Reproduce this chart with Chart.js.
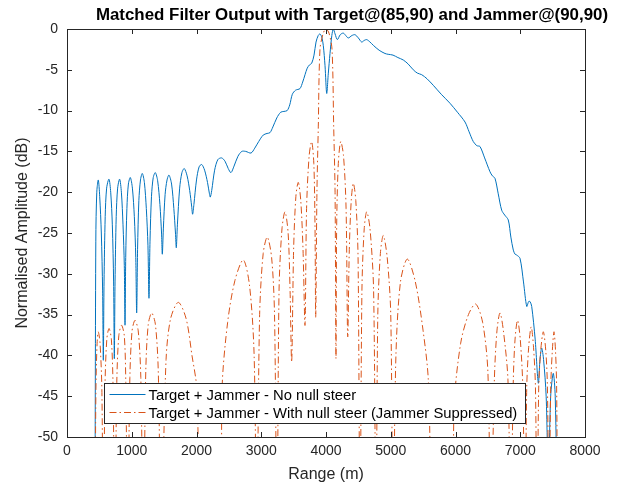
<!DOCTYPE html>
<html>
<head>
<meta charset="utf-8">
<script src="https://cdn.jsdelivr.net/npm/chart.js@4.4.1/dist/chart.umd.min.js"></script>
<style>
  html, body { margin: 0; padding: 0; background: #fff; }
  canvas { display: block; }
</style>
</head>
<body>
<canvas id="myChart" width="622" height="486"></canvas>
<script>
// matched filter output
// range (m) and normalised amplitude (dB) - no null steer
var blueRange = [432, 445, 460, 483, 505, 530, 550, 561, 572, 590, 612, 648, 675, 700, 720, 731,
  742, 760, 782, 813, 840, 865, 885, 896, 907, 925, 948, 978, 1010, 1040, 1062, 1076,
  1090, 1110, 1135, 1163, 1195, 1225, 1250, 1266, 1282, 1305, 1332, 1364, 1400, 1435, 1460, 1472,
  1488, 1515, 1545, 1575, 1615, 1650, 1675, 1688, 1705, 1740, 1775, 1811, 1855, 1895, 1925, 1940,
  1960, 2000, 2040, 2080, 2125, 2170, 2200, 2213, 2235, 2280, 2330, 2388, 2440, 2490, 2532,
  2580, 2640, 2700, 2760, 2842, 2900, 2960, 3030, 3090, 3135, 3180, 3240, 3300, 3350, 3400,
  3440, 3480, 3530, 3598, 3640, 3676, 3710, 3745, 3779, 3815, 3846, 3880, 3907, 3935, 3958,
  3985, 4011, 4035, 4062, 4090, 4113, 4140, 4175, 4220, 4267, 4305, 4344, 4400, 4448, 4500,
  4551, 4590, 4629, 4680, 4731, 4820, 4911, 4960, 5035, 5110, 5194, 5270, 5348, 5410, 5478,
  5560, 5657, 5780, 5915, 6030, 6147, 6210, 6275, 6330, 6378, 6450, 6533, 6570, 6610, 6660,
  6713, 6760, 6815, 6855, 6893, 6920, 6945, 6996, 7050, 7100, 7130, 7151, 7177, 7230, 7279,
  7305, 7331, 7360, 7400, 7434, 7470, 7510, 7540, 7572];
var blueDb = [-60, -26, -20, -18.5, -20.5, -25, -32, -40.6, -31, -23, -19.5, -18.4, -20, -24, -31, -40.4,
  -31, -23, -19.5, -18.4, -20, -24, -29, -36.3, -28, -22, -19, -18.2, -19.5, -23, -28, -34.8,
  -27, -21, -18.5, -17.7, -18.8, -22, -26.5, -33.0, -26, -20.5, -18.2, -17.6, -18.6, -21.5, -25, -27.6,
  -24.5, -20.3, -18.5, -17.9, -19, -22, -25, -26.8, -24, -19.5, -17.6, -17.1, -18, -19.8, -21.7, -22.7,
  -21.5, -18.5, -16.9, -16.6, -17.3, -18.8, -20.2, -20.6, -19.8, -17.3, -16, -15.8, -16.2, -17.1, -17.6,
  -16.8, -15.6, -15.0, -15.0, -15.2, -14.6, -13.8, -13.0, -12.8, -12.7, -12.0, -10.9, -10.2, -10.1, -10.0,
  -9.3, -8.0, -7.5, -7.3, -6.5, -5.6, -4.8, -4.4, -4.2, -3.2, -1.6, -0.8, -0.6, -1.0, -2.0,
  -4.5, -7.9, -5.5, -3.0, -0.8, 0, -0.6, -1.3, -0.7, -0.5, -0.8, -1.1, -0.8, -0.7, -1.1,
  -1.6, -1.4, -1.3, -1.6, -2.0, -2.6, -3.0, -3.1, -3.2, -3.5, -3.8, -4.3, -5.0, -5.4, -5.6,
  -6.1, -6.9, -8.0, -9.1, -10.2, -11.4, -12.6, -13.8, -14.3, -14.4, -15.8, -17.5, -18.0, -18.3, -20.2,
  -22.2, -22.8, -23.4, -25.5, -27.1, -27.6, -27.7, -28.1, -31, -34.0, -33.4, -33.4, -34.0, -38, -43.4,
  -40.5, -39.1, -40.5, -45, -55, -45, -42.2, -45, -60];

// with null steer (jammer suppressed)
var redRange = [432, 447, 465, 483, 510, 538, 561, 587, 615, 649, 685, 711, 738, 769, 800, 842, 885, 908,
  937, 971, 1005, 1050, 1100, 1140, 1178, 1217, 1255, 1308, 1365, 1409, 1455, 1530, 1600, 1719, 1840, 1930,
  2003, 2060, 2220, 2380, 2395, 2480, 2594, 2723, 2820, 2890, 2930, 2975, 3030, 3093, 3160, 3205,
  3243, 3275, 3320, 3367, 3415, 3445, 3470, 3500, 3535, 3572, 3610, 3645, 3676, 3700, 3740, 3779,
  3812, 3830, 3841, 3860, 3881, 3907, 3958, 4000, 4046, 4093, 4119, 4140, 4154, 4165, 4190, 4227,
  4270, 4310, 4335, 4360, 4390, 4422, 4460, 4495, 4525, 4555, 4590, 4629, 4680, 4735, 4772, 4800,
  4840, 4885, 4945, 5000, 5035, 5080, 5150, 5256, 5380, 5500, 5580, 5640, 5800, 5960, 5980, 6080,
  6200, 6312, 6420, 6500, 6544, 6600, 6640, 6687, 6740, 6810, 6852, 6893, 6920, 6958, 7000, 7040,
  7073, 7100, 7130, 7169, 7205, 7235, 7259, 7285, 7315, 7356, 7395, 7420, 7444, 7470, 7495, 7521,
  7545, 7562, 7575];
var redDb = [-62, -44, -38.5, -37.1, -38.5, -44, -62, -43.7, -38, -36.7, -38, -43.7, -62, -43.3, -37.6, -36.3, -37.6, -43.3,
  -62, -42.7, -37, -35.7, -37, -42.7, -62, -41.8, -36.2, -34.8, -36.2, -41.8, -62, -40.5, -35.5, -33.5, -35.5, -40,
  -44, -62, -80, -62, -44, -36, -30.8, -28.3, -31.5, -40, -62, -35, -27.5, -25.5, -28, -35,
  -62, -32, -24.5, -22.4, -25, -32, -40.8, -27, -20.5, -18.8, -21, -27, -36.3, -22, -15.5, -13.8,
  -16.5, -24, -35.3, -20, -12, -2.5, -0.5, 0, -0.5, -2.5, -12, -20, -40.4, -24, -16.5, -13.8,
  -15.5, -22, -37.7, -27, -21, -18.9, -21, -28, -62, -32, -24.5, -22.4, -24.5, -32, -62, -35,
  -27.5, -25.3, -28, -35, -62, -40, -31, -28.2, -31, -37, -43, -62, -80, -62, -46, -38.5,
  -35, -33.7, -36, -42, -62, -43, -37, -34.8, -37, -43, -62, -43, -38, -35.7, -38, -44,
  -62, -44, -39, -36.5, -39, -44, -62, -44, -39.5, -37.1, -39.5, -44, -62, -44, -39.5, -37.1,
  -39.5, -44, -62];

var xTicks = [0, 1000, 2000, 3000, 4000, 5000, 6000, 7000, 8000];
var yTicks = [0, -5, -10, -15, -20, -25, -30, -35, -40, -45, -50];
var seriesNames = ["Target + Jammer - No null steer", "Target + Jammer - With null steer (Jammer Suppressed)"];
var chartTitle = "Matched Filter Output with Target@(85,90) and Jammer@(90,90)";

var FONT = "'Liberation Sans', Arial, Helvetica, sans-serif";
var TXT = "#262626";
var BLUE = "#0072BD";
var RED = "#D95319";
var RED_DASH = [7, 3, 1.5, 3];

function toPoints(xs, ys) {
  var out = [];
  for (var i = 0; i < xs.length; i++) {
    out.push({ x: xs[i], y: ys[i] });
  }
  return out;
}

// box, inward ticks, legend and title in matlab style
var matlabFrame = {
  id: "matlabFrame",
  afterDatasetsDraw: function(chart) {
    var ctx = chart.ctx;
    var area = chart.chartArea;
    var xs = chart.scales.x;
    var ys = chart.scales.y;
    ctx.save();
    ctx.strokeStyle = TXT;
    ctx.lineWidth = 1;
    ctx.beginPath();
    for (var i = 0; i < xTicks.length; i++) {
      var px = Math.round(xs.getPixelForValue(xTicks[i])) + 0.5;
      ctx.moveTo(px, area.bottom);
      ctx.lineTo(px, area.bottom - 5);
      ctx.moveTo(px, area.top);
      ctx.lineTo(px, area.top + 5);
    }
    for (var j = 0; j < yTicks.length; j++) {
      var py = Math.round(ys.getPixelForValue(yTicks[j])) + 0.5;
      ctx.moveTo(area.left, py);
      ctx.lineTo(area.left + 5, py);
      ctx.moveTo(area.right, py);
      ctx.lineTo(area.right - 5, py);
    }
    ctx.stroke();
    ctx.strokeRect(Math.round(area.left) + 0.5, Math.round(area.top) + 0.5,
      Math.round(area.right - area.left), Math.round(area.bottom - area.top));

    // legend
    var lx = Math.round(area.left) + 37.5;
    var ly = Math.round(area.bottom) - 53.5;
    var lw = 421;
    var lh = 40;
    ctx.fillStyle = "#fff";
    ctx.fillRect(lx, ly, lw, lh);
    ctx.strokeRect(lx, ly, lw, lh);
    var rows = [ly + 11, ly + 29];
    ctx.lineWidth = 1;
    ctx.strokeStyle = BLUE;
    ctx.beginPath();
    ctx.moveTo(lx + 5, rows[0]);
    ctx.lineTo(lx + 41, rows[0]);
    ctx.stroke();
    ctx.strokeStyle = RED;
    ctx.setLineDash(RED_DASH);
    ctx.beginPath();
    ctx.moveTo(lx + 5, rows[1]);
    ctx.lineTo(lx + 41, rows[1]);
    ctx.stroke();
    ctx.setLineDash([]);
    ctx.fillStyle = "#000";
    ctx.font = "14.8px " + FONT;
    ctx.textAlign = "left";
    ctx.textBaseline = "middle";
    ctx.fillText(seriesNames[0], lx + 44, rows[0] + 1);
    ctx.fillText(seriesNames[1], lx + 44, rows[1] + 1);
    ctx.restore();
  },
  afterDraw: function(chart) {
    var ctx = chart.ctx;
    ctx.save();
    ctx.fillStyle = "#000";
    ctx.font = "bold 16.9px " + FONT;
    ctx.textAlign = "center";
    ctx.textBaseline = "middle";
    ctx.fillText(chartTitle, 352, 15);
    ctx.restore();
  }
};

var ctx = document.getElementById("myChart");
var myChart = new Chart(ctx, {
  type: "line",
  data: {
    datasets: [{
      label: seriesNames[0],
      data: toPoints(blueRange, blueDb),
      borderColor: BLUE,
      borderWidth: 1,
      pointRadius: 0,
      tension: 0.3,
      fill: false,
      order: 2
    }, {
      label: seriesNames[1],
      data: toPoints(redRange, redDb),
      borderColor: RED,
      borderWidth: 1,
      borderDash: RED_DASH,
      pointRadius: 0,
      tension: 0.3,
      fill: false,
      order: 1
    }]
  },
  options: {
    responsive: false,
    animation: false,
    events: [],
    layout: { padding: { left: 0, right: 37, top: 29, bottom: 0 } },
    plugins: {
      legend: { display: false },
      title: { display: false },
      tooltip: { enabled: false }
    },
    scales: {
      x: {
        type: "linear",
        min: 0,
        max: 8000,
        afterFit: function(scale) { scale.height = 49; },
        afterBuildTicks: function(scale) {
          scale.ticks = xTicks.map(function(v) { return { value: v }; });
        },
        grid: { display: false, drawTicks: false, tickLength: 0 },
        border: { display: false },
        ticks: {
          color: TXT,
          font: { family: FONT, size: 14 },
          padding: 6,
          maxRotation: 0,
          callback: function(value) { return String(value); }
        },
        title: { display: true, text: "Range (m)", color: TXT, font: { family: FONT, size: 16 }, padding: { top: 0, bottom: 2 } }
      },
      y: {
        type: "linear",
        min: -50,
        max: 0,
        afterFit: function(scale) { scale.width = 67; },
        afterBuildTicks: function(scale) {
          scale.ticks = yTicks.map(function(v) { return { value: v }; });
        },
        grid: { display: false, drawTicks: false, tickLength: 0 },
        border: { display: false },
        ticks: {
          color: TXT,
          font: { family: FONT, size: 14 },
          padding: 9,
          callback: function(value) { return String(value); }
        },
        title: { display: true, text: "Normalised Amplitude (dB)", color: TXT, font: { family: FONT, size: 16 }, padding: { top: 13, bottom: 0 } }
      }
    }
  },
  plugins: [matlabFrame]
});
</script>
</body>
</html>
